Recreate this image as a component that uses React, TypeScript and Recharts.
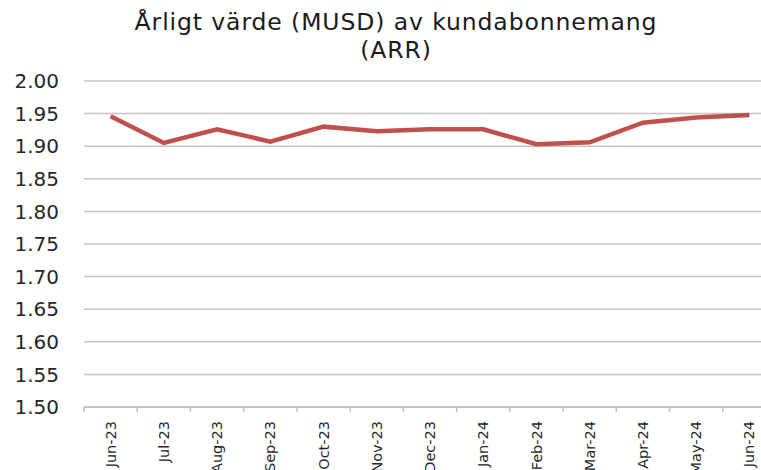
import { LineChart, Line, XAxis, YAxis, CartesianGrid } from "recharts";

const months = ["Jun-23", "Jul-23", "Aug-23", "Sep-23", "Oct-23", "Nov-23", "Dec-23", "Jan-24", "Feb-24", "Mar-24", "Apr-24", "May-24", "Jun-24"];
const arr = [1.946, 1.905, 1.926, 1.907, 1.93, 1.923, 1.926, 1.926, 1.903, 1.906, 1.936, 1.944, 1.948];
const yTicks = [1.5, 1.55, 1.6, 1.65, 1.7, 1.75, 1.8, 1.85, 1.9, 1.95, 2.0];

const data = months.map((m, i) => ({ month: m, arr: arr[i] }));

const FONT = "'DejaVu Sans', Verdana, sans-serif";
const BAND = (776 - 84) / months.length;

function MonthTick(props: any) {
  const { x, y, payload } = props;
  const bx = x - BAND / 2;
  return (
    <g>
      <line x1={bx} y1={y - 8} x2={bx} y2={y - 3} stroke="#bfbfbf" strokeWidth={1.5} />
      <text
        x={x}
        y={y + 6}
        transform={`rotate(-90, ${x}, ${y + 6})`}
        textAnchor="end"
        dy="0.35em"
        fontSize={14.5}
        fill="#262626"
        fontFamily={FONT}
      >
        {payload.value}
      </text>
    </g>
  );
}

export default function App() {
  return (
    <div style={{ position: "fixed", left: 0, top: 0, width: 761, height: 470, overflow: "hidden", background: "#fff" }}>
      <div
        style={{
          position: "absolute",
          left: 0,
          top: 8,
          width: 792,
          textAlign: "center",
          fontFamily: FONT,
          fontSize: 23.5,
          letterSpacing: 0.9,
          lineHeight: "28px",
          color: "#1a1a1a",
        }}
      >
        Årligt värde (MUSD) av kundabonnemang
        <br />
        (ARR)
      </div>
      <LineChart width={780} height={470} data={data} margin={{ top: 81, right: 4, bottom: 0, left: 0 }}>
        <CartesianGrid vertical={false} stroke="#c4c4c4" strokeWidth={1.5} />
        <XAxis
          dataKey="month"
          scale="band"
          height={63}
          interval={0}
          tickLine={false}
          axisLine={{ stroke: "#bfbfbf", strokeWidth: 1.5 }}
          tick={<MonthTick />}
        />
        <YAxis
          width={84}
          domain={[1.5, 2.0]}
          ticks={yTicks}
          tickFormatter={(v: number) => v.toFixed(2)}
          tickLine={false}
          axisLine={false}
          tickSize={0}
          tickMargin={25}
          tick={{ fontSize: 20, fill: "#262626", fontFamily: FONT }}
        />
        <Line
          dataKey="arr"
          type="linear"
          stroke="#c0504d"
          strokeWidth={4.5}
          dot={false}
          isAnimationActive={false}
        />
      </LineChart>
    </div>
  );
}
